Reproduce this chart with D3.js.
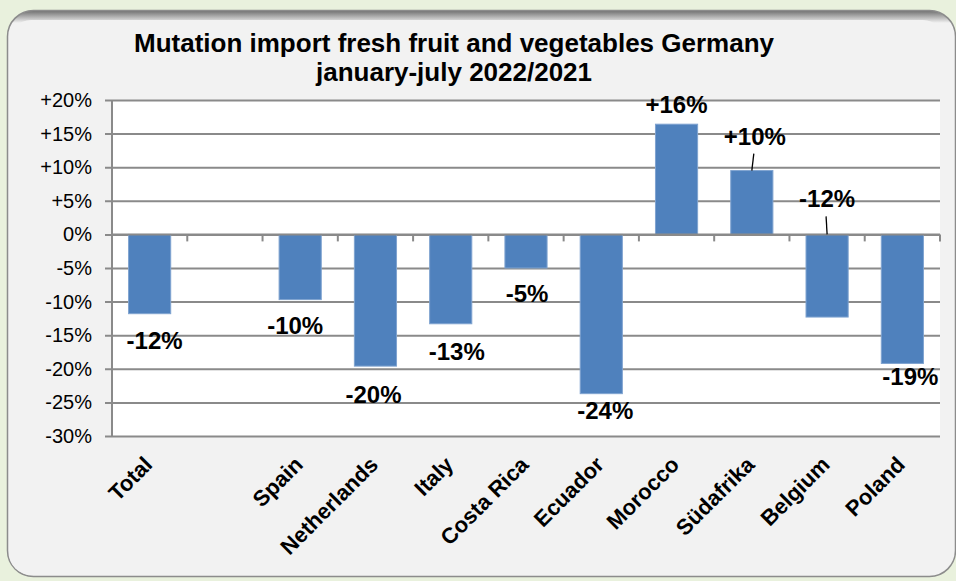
<!DOCTYPE html>
<html>
<head>
<meta charset="utf-8">
<title>Mutation import fresh fruit and vegetables Germany</title>
<script src="https://d3js.org/d3.v7.min.js"></script>
<style>
  body { margin: 0; background: #e9f1dd; }
  svg { display: block; font-family: Arial, "Liberation Sans", sans-serif; }
</style>
</head>
<body>
<svg width="956" height="581"></svg>
<script>
// categories (the empty one is a gap slot in the original chart)
var categories = ["Total", " ", "Spain", "Netherlands", "Italy", "Costa Rica", "Ecuador", "Morocco", "Südafrika", "Belgium", "Poland"];
var values = [-11.8, null, -9.7, -19.6, -13.3, -5.0, -23.7, 16.4, 9.5, -12.3, -19.2];
var valueLabels = ["-12%", "", "-10%", "-20%", "-13%", "-5%", "-24%", "+16%", "+10%", "-12%", "-19%"];
var yTicks = [20, 15, 10, 5, 0, -5, -10, -15, -20, -25, -30];

// label nudges, like manually dragged labels in the original
var labelDx = [5, 0, -5, -2, 6, 1, 4, 0, 3, 0, 8];
var labelDy = [35, 0, 34, 37, 36, 34, 25, -11, -26, 0, 22];

var svg = d3.select("svg");
var left = 112, right = 940;

// panel
var defs = svg.append("defs");
var grad = defs.append("linearGradient").attr("id", "edge").attr("x1", 0).attr("y1", 0).attr("x2", 0).attr("y2", 1);
grad.append("stop").attr("offset", "0%").attr("stop-color", "#6e6e6e");
grad.append("stop").attr("offset", "2.2%").attr("stop-color", "#f2f2f2");
grad.append("stop").attr("offset", "100%").attr("stop-color", "#f2f2f2");

svg.append("rect")
  .attr("x", 7.5).attr("y", 10.5).attr("width", 948).attr("height", 566)
  .attr("rx", 26)
  .attr("fill", "url(#edge)")
  .attr("stroke", "#8c8c8c").attr("stroke-width", 1.5);
svg.append("rect")
  .attr("x", 9).attr("y", 20).attr("width", 936).attr("height", 555)
  .attr("rx", 22)
  .attr("fill", "#f2f2f2");

var x = d3.scaleBand()
  .domain(categories)
  .range([left, right])
  .paddingInner(0.44)
  .paddingOuter(0.22);

var y = d3.scaleLinear()
  .domain([-30, 20])
  .range([436, 100]);

// plot area
svg.append("rect")
  .attr("x", left).attr("y", y(20))
  .attr("width", right - left).attr("height", y(-30) - y(20))
  .attr("fill", "#ffffff");

// grid lines + y axis
var yAxis = d3.axisLeft(y)
  .tickValues(yTicks)
  .tickSize(-(right - left))
  .tickPadding(20)
  .tickFormat(function(d) { return d > 0 ? "+" + d + "%" : d + "%"; });

var gy = svg.append("g")
  .attr("transform", "translate(" + left + ",0)")
  .call(yAxis);
gy.select(".domain").remove();
gy.selectAll(".tick line")
  .attr("x1", -7)
  .attr("stroke", "#8a8a8a")
  .attr("stroke-width", 2);
gy.selectAll(".tick text")
  .attr("font-size", 20)
  .attr("fill", "#000");

svg.append("line")
  .attr("x1", left).attr("x2", left)
  .attr("y1", y(20)).attr("y2", y(-30))
  .attr("stroke", "#8a8a8a").attr("stroke-width", 2);

// bars
svg.selectAll(".bar")
  .data(categories.map(function(c, i) { return { c: c, v: values[i] }; }).filter(function(d) { return d.v !== null; }))
  .enter().append("rect")
  .attr("class", "bar")
  .attr("x", function(d) { return x(d.c); })
  .attr("width", x.bandwidth())
  .attr("y", function(d) { return y(Math.max(0, d.v)); })
  .attr("height", function(d) { return Math.abs(y(d.v) - y(0)); })
  .attr("fill", "#4f81bd")
  .attr("stroke", "#7fa3d0")
  .attr("stroke-width", 1);

// zero axis with category separators
var step = x.step();
var zero = svg.append("g");
zero.append("line")
  .attr("x1", left).attr("x2", right)
  .attr("y1", y(0)).attr("y2", y(0))
  .attr("stroke", "#8a8a8a").attr("stroke-width", 2);
zero.selectAll(".sep")
  .data(d3.range(1, categories.length + 1))
  .enter().append("line")
  .attr("x1", function(k) { return left + k * step; })
  .attr("x2", function(k) { return left + k * step; })
  .attr("y1", y(0)).attr("y2", y(0) + 7)
  .attr("stroke", "#8a8a8a").attr("stroke-width", 2);

// value labels
function labelPos(i) {
  var cx = x(categories[i]) + x.bandwidth() / 2 + labelDx[i];
  var by;
  if (i === 9) by = y(0) - 27; // Belgium label sits above the axis
  else by = y(values[i]) + labelDy[i];
  return [cx, by];
}

categories.forEach(function(c, i) {
  if (values[i] === null) return;
  var p = labelPos(i);
  svg.append("text")
    .attr("x", p[0]).attr("y", p[1])
    .attr("text-anchor", "middle")
    .attr("font-size", 24)
    .attr("font-weight", "bold")
    .text(valueLabels[i]);
});

// leader lines for the two moved labels
[8, 9].forEach(function(i) {
  var p = labelPos(i);
  var end = i === 9 ? y(0) : y(values[i]);
  var bx = x(categories[i]) + x.bandwidth() / 2;
  svg.append("line")
    .attr("x1", p[0] - 1).attr("y1", p[1] + 9)
    .attr("x2", bx).attr("y2", end)
    .attr("stroke", "#000").attr("stroke-width", 1.3);
});

// category labels
svg.selectAll(".cat")
  .data(categories)
  .enter().append("text")
  .attr("class", "cat")
  .attr("text-anchor", "end")
  .attr("font-size", 22)
  .attr("font-weight", "bold")
  .attr("transform", function(d) {
    return "translate(" + (x(d) + x.bandwidth() / 2 + 4) + ",466) rotate(-45)";
  })
  .text(function(d) { return d.trim(); });

// title
var title = svg.append("text")
  .attr("text-anchor", "middle")
  .attr("font-size", 26)
  .attr("font-weight", "bold");
title.append("tspan").attr("x", 454).attr("y", 52).text("Mutation import fresh fruit and vegetables Germany");
title.append("tspan").attr("x", 454).attr("y", 81).text("january-july 2022/2021");
</script>
</body>
</html>
